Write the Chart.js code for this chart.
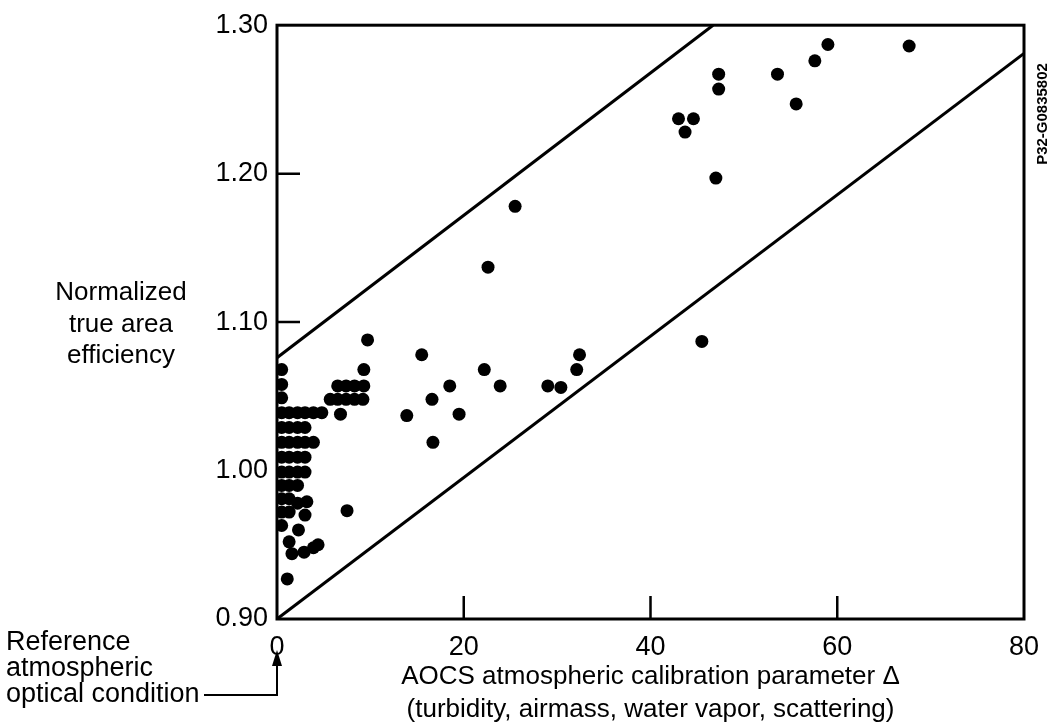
<!DOCTYPE html>
<html>
<head>
<meta charset="utf-8">
<script src="https://cdn.jsdelivr.net/npm/chart.js@4.4.0/dist/chart.umd.min.js"></script>
<style>
   body { margin: 0; background: #fff; }
   canvas { display: block; }
</style>
</head>
<body>
<canvas id="chart1" width="1057" height="726"></canvas>
<script>
/*=================================>> DATA  <<=================================*/

// [delta, normalized efficiency]
const clusterPoints = [
   [0.5, 1.068], [0.5, 1.058], [0.5, 1.049], [0.5, 1.039], [0.5, 1.029], [0.5, 1.019],
   [0.5, 1.009], [0.5, 0.999], [0.5, 0.990], [0.5, 0.981], [0.5, 0.972], [0.5, 0.963],
   [1.3, 1.039], [1.3, 1.029], [1.3, 1.019], [1.3, 1.009], [1.3, 0.999], [1.3, 0.990],
   [1.3, 0.981], [1.3, 0.972], [1.3, 0.952],
   [2.2, 1.039], [2.2, 1.029], [2.2, 1.019], [2.2, 1.009], [2.2, 0.999], [2.2, 0.990],
   [2.2, 0.978], [2.3, 0.960],
   [3.0, 1.039], [3.0, 1.029], [3.0, 1.019], [3.0, 1.009], [3.0, 0.999], [3.2, 0.979],
   [3.0, 0.970], [2.9, 0.945],
   [3.9, 1.039], [3.9, 1.019], [3.9, 0.948], [4.4, 0.950], [4.8, 1.039],
   [1.6, 0.944], [1.1, 0.927]
];
const midPoints = [
   [6.5, 1.057], [7.4, 1.057], [8.3, 1.057], [9.3, 1.057],
   [5.7, 1.048], [6.5, 1.048], [7.4, 1.048], [8.3, 1.048], [9.2, 1.048],
   [6.8, 1.038], [9.3, 1.068], [9.7, 1.088], [7.5, 0.973],
   [13.9, 1.037], [15.5, 1.078], [16.6, 1.048], [16.7, 1.019], [18.5, 1.057], [19.5, 1.038],
   [22.2, 1.068], [22.6, 1.137], [23.9, 1.057], [25.5, 1.178], [29.0, 1.057], [30.4, 1.056],
   [32.1, 1.068], [32.4, 1.078]
];
const highPoints = [
   [43.0, 1.237], [44.6, 1.237], [43.7, 1.228], [47.3, 1.267], [47.3, 1.257], [47.0, 1.197],
   [45.5, 1.087], [53.6, 1.267], [55.6, 1.247], [57.6, 1.276], [59.0, 1.287], [67.7, 1.286]
];
const upperBound = [[0, 1.076], [46.7, 1.30]];
const lowerBound = [[0, 0.90], [80, 1.281]];

const xTicks = [20, 40, 60];
const yTicks = [1.00, 1.10, 1.20];
const yTitle = ["Normalized", "true area", "efficiency"];
const xTitle = ["AOCS atmospheric calibration parameter \u0394", "(turbidity, airmass, water vapor, scattering)"];
const refNote = ["Reference", "atmospheric", "optical condition"];
const figureCode = "P32-G0835802";

/*=================================>> CHART  <<=================================*/

const FONT = "'Liberation Sans', Arial, Helvetica, sans-serif";

const toXY = (list) => list.map(p => ({ x: p[0], y: p[1] }));

const overlay = {
   id: "overlay",
   afterDraw(chart) {
      const { ctx, chartArea: a, scales: { x, y } } = chart;
      ctx.save();
      ctx.strokeStyle = "#000";
      ctx.fillStyle = "#000";

      // frame + inward ticks
      ctx.lineWidth = 3;
      ctx.strokeRect(a.left, a.top, a.right - a.left, a.bottom - a.top);
      ctx.lineWidth = 2.5;
      ctx.beginPath();
      yTicks.forEach(v => {
         const py = y.getPixelForValue(v);
         ctx.moveTo(a.left, py);
         ctx.lineTo(a.left + 23, py);
      });
      xTicks.forEach(v => {
         const px = x.getPixelForValue(v);
         ctx.moveTo(px, a.bottom);
         ctx.lineTo(px, a.bottom - 23);
      });
      ctx.stroke();

      // y title
      ctx.font = `26px ${FONT}`;
      ctx.textAlign = "center";
      ctx.textBaseline = "alphabetic";
      yTitle.forEach((t, i) => ctx.fillText(t, 121, 300 + i * 31.5));

      // reference note + arrow
      ctx.font = `27px ${FONT}`;
      ctx.textAlign = "left";
      refNote.forEach((t, i) => ctx.fillText(t, 6, 650 + i * 26));
      const ax = x.getPixelForValue(0);
      ctx.lineWidth = 2;
      ctx.beginPath();
      ctx.moveTo(204, 695);
      ctx.lineTo(ax, 695);
      ctx.lineTo(ax, 664);
      ctx.stroke();
      ctx.beginPath();
      ctx.moveTo(ax, 650);
      ctx.lineTo(ax - 5, 666);
      ctx.lineTo(ax + 5, 666);
      ctx.closePath();
      ctx.fill();

      // figure code
      ctx.translate(1043, 114);
      ctx.rotate(-Math.PI / 2);
      ctx.font = `bold 15px ${FONT}`;
      ctx.textAlign = "center";
      ctx.textBaseline = "middle";
      ctx.fillText(figureCode, 0, 0);
      ctx.restore();
   }
};

function drawChart(canva) {
   const dots = {
      type: "scatter",
      pointRadius: 6.5,
      pointHoverRadius: 6.5,
      pointBorderWidth: 0,
      backgroundColor: "#000",
      borderColor: "#000",
   };
   const bound = {
      type: "line",
      borderColor: "#000",
      borderWidth: 3,
      pointRadius: 0,
      fill: false,
   };
   const config = {
      type: "scatter",
      data: {
         datasets: [
            { ...bound, data: toXY(upperBound) },
            { ...bound, data: toXY(lowerBound) },
            { ...dots, data: toXY(clusterPoints) },
            { ...dots, data: toXY(midPoints) },
            { ...dots, data: toXY(highPoints) },
         ]
      },
      options: {
         responsive: false,
         animation: false,
         layout: { padding: { top: 24, right: 33, bottom: 0, left: 0 } },
         plugins: {
            legend: { display: false },
            tooltip: { enabled: false },
         },
         scales: {
            x: {
               type: "linear",
               min: 0,
               max: 80,
               afterFit: (s) => { s.height = 107; },
               grid: { display: false, drawTicks: false },
               border: { display: false },
               ticks: {
                  stepSize: 20,
                  padding: 12,
                  color: "#000",
                  font: { size: 27, family: FONT },
               },
               title: {
                  display: true,
                  text: xTitle,
                  color: "#000",
                  font: { size: 26, family: FONT, lineHeight: 1.25 },
                  padding: { top: 0, bottom: 0 },
               }
            },
            y: {
               type: "linear",
               min: 0.9,
               max: 1.3,
               afterFit: (s) => { s.width = 277; },
               grid: { display: false, drawTicks: false },
               border: { display: false },
               ticks: {
                  stepSize: 0.1,
                  padding: 9,
                  color: "#000",
                  font: { size: 27, family: FONT },
                  callback: (v) => v.toFixed(2),
               }
            }
         }
      },
      plugins: [overlay],
   };
   return new Chart(canva, config);
}

drawChart(document.querySelector("#chart1"));
</script>
</body>
</html>
